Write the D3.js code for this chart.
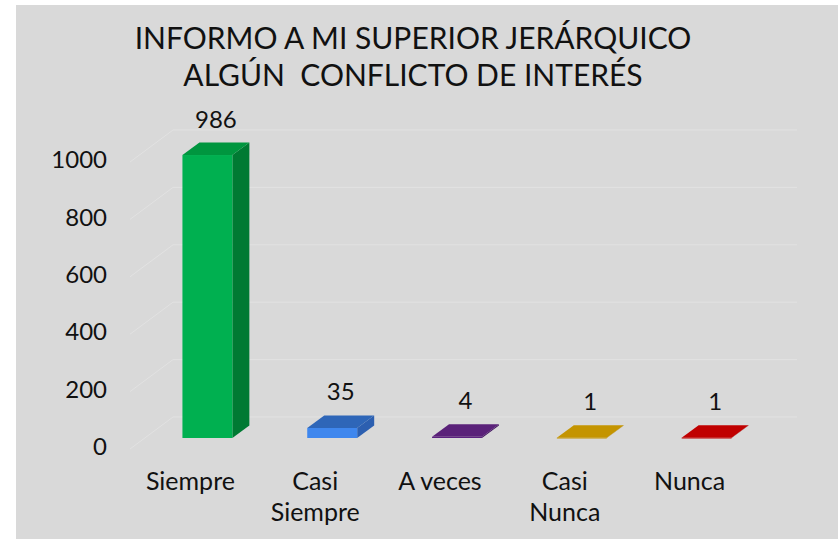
<!DOCTYPE html>
<html>
<head>
<meta charset="utf-8">
<script src="https://cdn.jsdelivr.net/npm/d3@7"></script>
<style>
  body { margin: 0; background: #fff; }
  text { font-family: Lato, "Open Sans", sans-serif; fill: #111; }
</style>
</head>
<body>
<div id="chart"></div>
<script>
var categories = ["Siempre", "Casi Siempre", "A veces", "Casi Nunca", "Nunca"];
var categoryLines = [["Siempre"], ["Casi", "Siempre"], ["A veces"], ["Casi", "Nunca"], ["Nunca"]];
var values = [986, 35, 4, 1, 1];
var tickValues = [0, 200, 400, 600, 800, 1000];
var titleLines = ["INFORMO A MI SUPERIOR JERÁRQUICO", "ALGÚN  CONFLICTO DE INTERÉS"];
var colors = [
  {front: "#00b050", side: "#007a33", top: "#00963f"},
  {front: "#3f87ee", side: "#2c5fb0", top: "#2e66b8"},
  {front: "#5b2180", side: "#431560", top: "#5a2179"},
  {front: "#c49400", side: "#9a7400", top: "#c49400"},
  {front: "#c00000", side: "#900000", top: "#c00000"}
];

var W = 838, H = 539;
// depth of the 3d box (floor), and where the bars sit inside it
var depth = {dx: 43, dy: -32};
var barFront = {dx: 15, dy: -11};
var barDepth = {dx: 17, dy: -12.5};

var svg = d3.select("#chart").append("svg")
  .attr("width", W).attr("height", H);

svg.append("rect")
  .attr("x", 16).attr("y", 5)
  .attr("width", W - 16).attr("height", H - 5)
  .attr("fill", "#d9d9d9");

var x = d3.scaleBand()
  .domain(categories)
  .range([130, 754])
  .paddingInner(0.6)
  .paddingOuter(0.3);

var y = d3.scaleLinear()
  .domain([0, 1000])
  .range([449, 162]);

// gridlines: side wall diagonal + back wall horizontal
var grid = svg.append("g");
tickValues.forEach(function(v) {
  grid.append("path")
    .attr("d", "M" + 130 + "," + y(v) +
      "L" + (130 + depth.dx) + "," + (y(v) + depth.dy) +
      "L" + (754 + depth.dx) + "," + (y(v) + depth.dy))
    .attr("fill", "none")
    .attr("stroke", "#e2e2e2")
    .attr("stroke-width", 1);
});

// y axis
var yAxis = svg.append("g")
  .attr("transform", "translate(130,-2)")
  .call(d3.axisLeft(y).tickValues(tickValues).tickFormat(d3.format("d")).tickSize(0).tickPadding(23));
yAxis.select(".domain").remove();
yAxis.selectAll("text")
  .style("font-family", "Lato, sans-serif")
  .style("font-size", "24px")
  .attr("fill", "#111");

// bars
var bars = svg.append("g").selectAll("g")
  .data(categories.map(function(c, i) { return {key: c, value: values[i], col: colors[i]}; }))
  .enter().append("g");

bars.each(function(d) {
  var g = d3.select(this);
  var x0 = x(d.key) + barFront.dx, x1 = x0 + x.bandwidth();
  var yb = y(0) + barFront.dy, yt = y(d.value) + barFront.dy;
  var ddx = barDepth.dx, ddy = barDepth.dy;
  // side
  g.append("path")
    .attr("d", "M" + x1 + "," + yb + "L" + (x1 + ddx) + "," + (yb + ddy) +
      "L" + (x1 + ddx) + "," + (yt + ddy) + "L" + x1 + "," + yt + "Z")
    .attr("fill", d.col.side);
  // front
  g.append("rect")
    .attr("x", x0).attr("y", yt)
    .attr("width", x.bandwidth())
    .attr("height", Math.max(yb - yt, 0.8))
    .attr("fill", d.col.front);
  // top
  g.append("path")
    .attr("d", "M" + x0 + "," + yt + "L" + x1 + "," + yt +
      "L" + (x1 + ddx) + "," + (yt + ddy) + "L" + (x0 + ddx) + "," + (yt + ddy) + "Z")
    .attr("fill", d.col.top);
  // value label
  g.append("text")
    .attr("x", x0 + x.bandwidth() / 2 + ddx / 2)
    .attr("y", yt + ddy - 15)
    .attr("text-anchor", "middle")
    .style("font-size", "24px")
    .text(d.value);
});

// category labels
var cat = svg.append("g").selectAll("text")
  .data(categories)
  .enter().append("text")
  .attr("text-anchor", "middle")
  .style("font-size", "25px")
  .attr("transform", function(d) { return "translate(" + (x(d) + x.bandwidth() / 2 - 2) + ",490)"; });
cat.each(function(d, i) {
  var t = d3.select(this);
  categoryLines[i].forEach(function(w, j) {
    t.append("tspan").attr("x", 0).attr("dy", j ? 31 : 0).text(w);
  });
});

// title
svg.append("g").selectAll("text")
  .data(titleLines)
  .enter().append("text")
  .attr("x", 413)
  .attr("y", function(d, i) { return 49 + i * 37; })
  .attr("text-anchor", "middle")
  .style("font-size", "30px")
  .style("white-space", "pre")
  .attr("xml:space", "preserve")
  .text(function(d) { return d; });
</script>
</body>
</html>
